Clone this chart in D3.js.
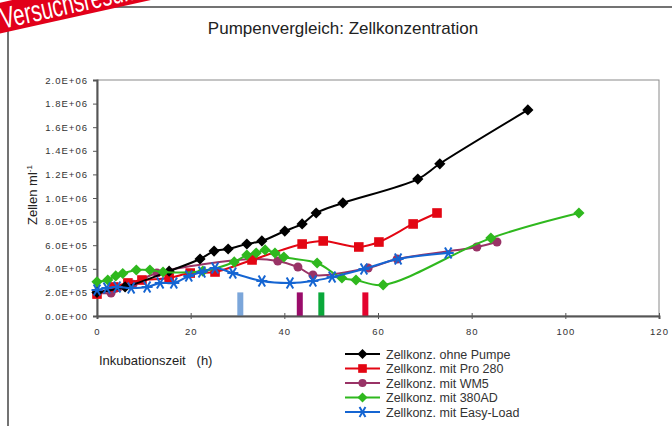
<!DOCTYPE html>
<html><head><meta charset="utf-8">
<script src="https://cdn.jsdelivr.net/npm/d3@7"></script>
<style>
body{margin:0;background:#fff;}
svg{display:block;font-family:"Liberation Sans",Arial,sans-serif;}
</style></head>
<body>
<svg id="c" width="672" height="426"></svg>
<script>
// ---- data ----
const seriesNames = ["Zellkonz. ohne Pumpe","Zellkonz. mit Pro 280","Zellkonz. mit WM5","Zellkonz. mit 380AD","Zellkonz. mit Easy-Load"];
const ohneX = [0,6,15.4,22,25,28,32,35.2,40.1,43.8,46.8,52.5,68.5,73.2,92];
const ohneY = [0.20,0.246,0.38,0.483,0.55,0.568,0.61,0.636,0.72,0.78,0.873,0.958,1.16,1.29,1.746];
const proX = [0,3.6,6.6,9.6,15.4,19.9,25.2,33.1,43.8,48.3,55.9,60.2,67.5,72.6];
const proY = [0.186,0.246,0.28,0.305,0.322,0.364,0.373,0.475,0.61,0.636,0.585,0.627,0.78,0.873];
const wmX = [0,3,7.7,12.8,33.3,38.6,42.9,46.1,57.9,64.1,81.1,85.4];
const wmY = [0.20,0.195,0.27,0.364,0.483,0.466,0.415,0.347,0.407,0.483,0.585,0.627];
const adX = [0,2.3,4,5.5,8.4,11.3,14.1,22.6,29.3,32,34,35.9,38,39.9,47,52.3,55.3,61.1,84.1,102.9];
const adY = [0.29,0.305,0.34,0.36,0.39,0.39,0.373,0.381,0.458,0.517,0.534,0.56,0.534,0.5,0.449,0.322,0.305,0.263,0.66,0.873];
const easyX = [0,2.1,4.3,7.3,10.7,13.5,16.4,19.6,22.4,25.2,29,35.2,41.2,46.1,50.2,57,64.3,75];
const easyY = [0.22,0.237,0.246,0.237,0.246,0.28,0.28,0.339,0.373,0.407,0.364,0.297,0.28,0.297,0.33,0.398,0.483,0.534];
const barX = [30.6,43.3,47.9,57.3];
const barY = [0.2,0.2,0.2,0.2];
const yTicks = [0,0.2,0.4,0.6,0.8,1.0,1.2,1.4,1.6,1.8,2.0];
const yTickLabels = ["0.0E+00","2.0E+05","4.0E+05","6.0E+05","8.0E+05","1.0E+06","1.2E+06","1.4E+06","1.6E+06","1.8E+06","2.0E+06"];
const xTicks = [0,20,40,60,80,100,120];

// ---- styles ----
const colors = ["#000000","#e30613","#993366","#2fb81e","#1565d2"];
const markerTypes = ["diamond","square","circle","diamond","star"];
const barColors = ["#7ba6da","#9a0b6a","#0aa83a","#e4032e"];

const svg = d3.select("#c");
const x = d3.scaleLinear().domain([0,120]).range([97,659]);
const y = d3.scaleLinear().domain([0,2.0]).range([316,80]);

// outer frame
svg.append("line").attr("x1",8).attr("x2",672).attr("y1",7).attr("y2",7).attr("stroke","#444").attr("stroke-width",1.5);
svg.append("line").attr("x1",8).attr("x2",8).attr("y1",7).attr("y2",426).attr("stroke","#444").attr("stroke-width",1.5);

// plot frame
svg.append("rect").attr("x",x(0)).attr("y",y(2)).attr("width",x(120)-x(0)).attr("height",y(0)-y(2))
  .attr("fill","none").attr("stroke","#8a8a8a").attr("stroke-width",1);

// bars
const bw = 6;
svg.append("g").selectAll("rect").data(barX).join("rect")
  .attr("x",d=>x(d)-bw/2).attr("y",(d,i)=>y(barY[i])).attr("width",bw)
  .attr("height",(d,i)=>y(0)-y(barY[i])).attr("fill",(d,i)=>barColors[i]);

// axes
const yAxis = d3.axisLeft(y).tickValues(yTicks).tickFormat((d,i)=>yTickLabels[i]).tickSize(4).tickPadding(5);
const gy = svg.append("g").attr("transform",`translate(${x(0)},0)`).call(yAxis);
const xAxis = d3.axisBottom(x).tickValues(xTicks).tickSize(3).tickPadding(9);
const gx = svg.append("g").attr("transform",`translate(0,${y(0)})`).call(xAxis);
gx.selectAll(".tick line").attr("y1",-3);
[gx,gy].forEach(g=>{
  g.select(".domain").attr("stroke","#555").attr("stroke-width",2);
  g.selectAll(".tick line").attr("stroke","#555");
  g.selectAll("text").attr("font-family","Liberation Sans, Arial, sans-serif").attr("font-size",9.5)
    .attr("letter-spacing","1px").attr("fill","#333");
});

// series
const xs=[ohneX,proX,wmX,adX,easyX], ys=[ohneY,proY,wmY,adY,easyY];
const line = d3.line().x(d=>x(d[0])).y(d=>y(d[1])).curve(d3.curveCatmullRom.alpha(0.5));
function marker(g,type,color,cx,cy,s){
  s = s||1;
  if(type==="diamond"){
    const r=5.6*s;
    g.append("path").attr("d",`M${cx},${cy-r}L${cx+r},${cy}L${cx},${cy+r}L${cx-r},${cy}Z`).attr("fill",color);
  } else if(type==="square"){
    const h=4.8*s;
    g.append("rect").attr("x",cx-h).attr("y",cy-h).attr("width",2*h).attr("height",2*h).attr("fill",color);
  } else if(type==="circle"){
    g.append("circle").attr("cx",cx).attr("cy",cy).attr("r",4.5*s).attr("fill",color);
  } else if(type==="star"){
    const r=5.5*s;
    const p = [[-r,0,r,0],[-r*0.6,-r,r*0.6,r],[-r*0.6,r,r*0.6,-r]];
    p.forEach(q=>g.append("line").attr("x1",cx+q[0]).attr("y1",cy+q[1]).attr("x2",cx+q[2]).attr("y2",cy+q[3])
      .attr("stroke",color).attr("stroke-width",2));
  }
}
const drawOrder=[2,1,0,3,4];
drawOrder.forEach(i=>{
  const pts = xs[i].map((v,j)=>[v,ys[i][j]]);
  const g = svg.append("g");
  g.append("path").attr("d",line(pts)).attr("fill","none").attr("stroke",colors[i]).attr("stroke-width",2);
  pts.forEach(p=>marker(g,markerTypes[i],colors[i],x(p[0]),y(p[1])));
});

// legend
const lg = svg.append("g");
seriesNames.forEach((n,i)=>{
  const yy = 354 + i*14.5;
  lg.append("line").attr("x1",345).attr("x2",380).attr("y1",yy).attr("y2",yy).attr("stroke",colors[i]).attr("stroke-width",2);
  marker(lg,markerTypes[i],colors[i],362.5,yy,0.9);
  lg.append("text").attr("x",386).attr("y",yy+4.5).attr("font-size",12.5).attr("fill","#333").text(n);
});

// title and labels
svg.append("text").attr("x",343).attr("y",34).attr("text-anchor","middle").attr("font-size",17).attr("fill","#222")
  .text("Pumpenvergleich: Zellkonzentration");
const yl = svg.append("text").attr("transform","translate(37,195) rotate(-90)").attr("text-anchor","middle")
  .attr("font-size",13).attr("fill","#222");
yl.append("tspan").text("Zellen ml");
yl.append("tspan").attr("font-size",8).attr("dy",-5).text("-1");
svg.append("text").attr("x",99).attr("y",365).attr("font-size",13).attr("fill","#222").attr("xml:space","preserve")
  .text("Inkubationszeit   (h)");

// stamp
const st = svg.append("g").attr("transform","translate(2,33) rotate(-12.5)");
st.append("rect").attr("x",-10).attr("y",-30).attr("width",230).attr("height",30).attr("fill","#e2001a");
st.append("text").attr("transform","translate(2,-4) scale(0.76,1.1)").attr("font-size",27).attr("fill","#fff")
  .text("Versuchsresultate");
</script>
</body></html>
